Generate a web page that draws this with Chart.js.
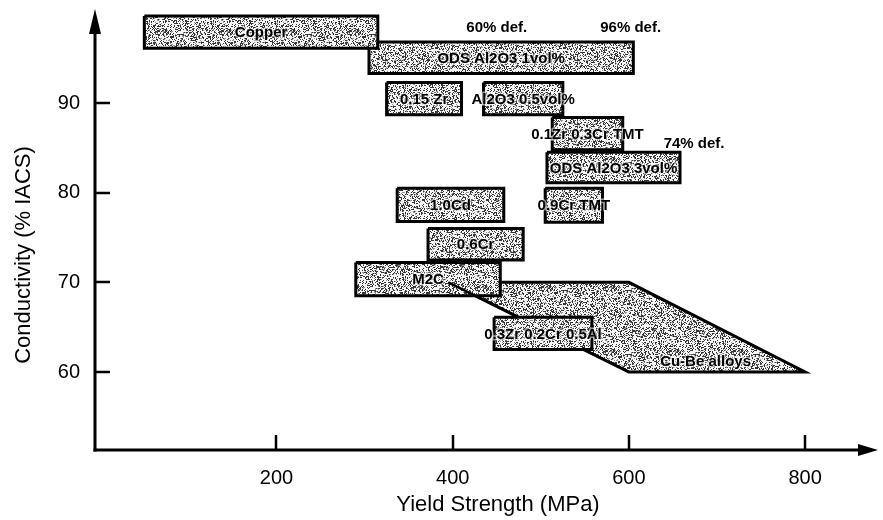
<!DOCTYPE html>
<html>
<head>
<meta charset="utf-8">
<script src="https://cdn.jsdelivr.net/npm/chart.js@4.4.1/dist/chart.umd.min.js"></script>
<style>
  html, body { margin: 0; padding: 0; background: #ffffff; }
  #wrap { width: 883px; height: 520px; }
</style>
</head>
<body>
<div id="wrap"><canvas id="chart" width="883" height="520"></canvas></div>
<script>
// Property windows of copper alloys: yield strength (MPa) vs conductivity (% IACS)
const alloys = [
  'Copper', 'ODS Al2O3 1vol%', '0.15 Zr', 'Al2O3 0.5vol%', '0.1Zr 0.3Cr TMT',
  'ODS Al2O3 3vol%', '0.9Cr TMT', '1.0Cd', '0.6Cr', 'M2C', '0.3Zr 0.2Cr 0.5Al'
];
const strengthMin = [50, 305, 325, 435, 513, 507, 505, 337, 372, 290, 447];
const strengthMax = [315, 605, 410, 525, 593, 658, 570, 458, 480, 454, 558];
const conductivityMin = [96.1, 93.3, 88.7, 88.7, 84.8, 81.1, 76.7, 76.8, 72.5, 68.5, 62.5];
const conductivityMax = [99.7, 96.8, 92.3, 92.3, 88.4, 84.5, 80.5, 80.5, 76.0, 72.2, 66.1];

// Cu-Be alloy band (corner points, in drawing order)
const cuBeStrength = [395, 600, 800, 600];
const cuBeConductivity = [70, 70, 60, 60];

// Free-standing notes
const notes = ['60% def.', '96% def.', '74% def.', 'Cu-Be alloys'];
const noteStrength = [450, 602, 674, 687];
const noteConductivity = [98.4, 98.4, 85.5, 61.1];

// Axis ticks
const strengthTicks = [200, 400, 600, 800];
const conductivityTicks = [60, 70, 80, 90];

const FONT = "'Liberation Sans', Arial, sans-serif";

// Grainy halftone fill used for every region
function makeStipple() {
  const c = document.createElement('canvas');
  c.width = 64; c.height = 64;
  const g = c.getContext('2d');
  const img = g.createImageData(64, 64);
  for (let j = 0; j < 64; j++) {
    for (let i = 0; i < 64; i++) {
      let n = Math.imul(i + 17, 374761393) ^ Math.imul(j + 31, 668265263);
      n = Math.imul(n ^ (n >>> 13), 1274126177);
      n = (n ^ (n >>> 16)) >>> 0;
      const r = n / 4294967296;
      const v = r < 0.30 ? 55 : (r < 0.42 ? 150 : 245);
      const k = (j * 64 + i) * 4;
      img.data[k] = v; img.data[k + 1] = v; img.data[k + 2] = v; img.data[k + 3] = 255;
    }
  }
  g.putImageData(img, 0, 0);
  return document.getElementById('chart').getContext('2d').createPattern(c, 'repeat');
}
const stipple = makeStipple();

function boxPoints(i) {
  return [
    { x: strengthMin[i], y: conductivityMax[i] },
    { x: strengthMax[i], y: conductivityMax[i] },
    { x: strengthMax[i], y: conductivityMin[i] },
    { x: strengthMin[i], y: conductivityMin[i] },
    { x: strengthMin[i], y: conductivityMax[i] }
  ];
}

const regionStyle = {
  backgroundColor: stipple,
  borderColor: '#000000',
  borderWidth: 3,
  borderJoinStyle: 'miter',
  pointRadius: 0,
  tension: 0,
  fill: 'shape'
};

// First dataset is drawn on top; the Cu-Be band sits underneath everything,
// with its lower-left edge showing through the M2C window
const datasets = [];
datasets.push(Object.assign({ label: alloys[10], data: boxPoints(10) }, regionStyle));
datasets.push({
  label: 'Cu-Be edge',
  data: [
    { x: cuBeStrength[0], y: cuBeConductivity[0] },
    { x: cuBeStrength[3], y: cuBeConductivity[3] }
  ],
  borderColor: '#000000',
  borderWidth: 2.5,
  pointRadius: 0,
  tension: 0,
  fill: false
});
[9, 0, 1, 2, 3, 4, 5, 6, 7, 8].forEach(i =>
  datasets.push(Object.assign({ label: alloys[i], data: boxPoints(i) }, regionStyle)));
const cuBePts = cuBeStrength.map((s, k) => ({ x: s, y: cuBeConductivity[k] }));
cuBePts.push({ x: cuBeStrength[0], y: cuBeConductivity[0] });
datasets.push(Object.assign({ label: 'Cu-Be alloys', data: cuBePts }, regionStyle));

// Axis lines with arrow heads, inward tick marks, titles and region labels
const decorations = {
  id: 'decorations',
  afterDatasetsDraw(chart) {
    const ctx = chart.ctx;
    const xs = chart.scales.x, ys = chart.scales.y;
    ctx.save();
    ctx.fillStyle = '#000';
    ctx.strokeStyle = 'rgba(255,255,255,0.55)';
    ctx.lineWidth = 3;
    ctx.lineJoin = 'round';
    ctx.textAlign = 'center';
    ctx.textBaseline = 'middle';
    ctx.font = 'bold 15px ' + FONT;
    alloys.forEach((name, i) => {
      const cx = xs.getPixelForValue((strengthMin[i] + strengthMax[i]) / 2);
      const cy = ys.getPixelForValue((conductivityMin[i] + conductivityMax[i]) / 2);
      ctx.strokeText(name, cx, cy + 1);
      ctx.fillText(name, cx, cy + 1);
    });
    notes.forEach((t, i) => {
      const nx = xs.getPixelForValue(noteStrength[i]);
      const ny = ys.getPixelForValue(noteConductivity[i]);
      ctx.strokeText(t, nx, ny);
      ctx.fillText(t, nx, ny);
    });
    ctx.restore();
  },
  afterDraw(chart) {
    const ctx = chart.ctx;
    const xs = chart.scales.x, ys = chart.scales.y;
    const a = chart.chartArea;
    ctx.save();
    ctx.strokeStyle = '#000';
    ctx.fillStyle = '#000';
    ctx.lineWidth = 3;
    ctx.lineCap = 'butt';
    // vertical axis
    ctx.beginPath();
    ctx.moveTo(a.left, a.bottom + 1.5);
    ctx.lineTo(a.left, a.top + 14);
    ctx.stroke();
    ctx.beginPath();
    ctx.moveTo(a.left, a.top + 1);
    ctx.lineTo(a.left - 6, a.top + 26);
    ctx.lineTo(a.left + 6, a.top + 26);
    ctx.closePath();
    ctx.fill();
    // horizontal axis
    ctx.beginPath();
    ctx.moveTo(a.left - 1.5, a.bottom);
    ctx.lineTo(a.right - 14, a.bottom);
    ctx.stroke();
    ctx.beginPath();
    ctx.moveTo(a.right - 2, a.bottom);
    ctx.lineTo(a.right - 22, a.bottom - 6);
    ctx.lineTo(a.right - 22, a.bottom + 6);
    ctx.closePath();
    ctx.fill();
    // inward ticks
    ctx.lineWidth = 2.5;
    strengthTicks.forEach(v => {
      const px = Math.round(xs.getPixelForValue(v));
      ctx.beginPath();
      ctx.moveTo(px, a.bottom);
      ctx.lineTo(px, a.bottom - 15);
      ctx.stroke();
    });
    conductivityTicks.forEach(v => {
      const py = Math.round(ys.getPixelForValue(v));
      ctx.beginPath();
      ctx.moveTo(a.left, py);
      ctx.lineTo(a.left + 15, py);
      ctx.stroke();
    });
    // axis titles
    ctx.font = '22px ' + FONT;
    ctx.textAlign = 'center';
    ctx.textBaseline = 'middle';
    ctx.fillText('Yield Strength (MPa)', 498, 505);
    ctx.translate(24, 255);
    ctx.rotate(-Math.PI / 2);
    ctx.fillText('Conductivity (% IACS)', 0, 0);
    ctx.restore();
  }
};

new Chart(document.getElementById('chart'), {
  type: 'line',
  data: { datasets },
  options: {
    responsive: false,
    animation: false,
    events: [],
    devicePixelRatio: 1,
    layout: { padding: { top: 8, right: 3, left: 0, bottom: 0 } },
    plugins: { legend: { display: false }, tooltip: { enabled: false } },
    scales: {
      x: {
        type: 'linear',
        min: -6,
        max: 885,
        afterBuildTicks: s => { s.ticks = strengthTicks.map(v => ({ value: v })); },
        afterFit: s => { s.height = 70; s.paddingLeft = 0; s.paddingRight = 0; },
        grid: { display: false, drawTicks: false },
        border: { display: false },
        ticks: { color: '#000', padding: 16, font: { family: FONT, size: 20 } }
      },
      y: {
        type: 'linear',
        min: 51.3,
        max: 100.6,
        afterBuildTicks: s => { s.ticks = conductivityTicks.map(v => ({ value: v })); },
        afterFit: s => { s.width = 95; s.paddingTop = 0; s.paddingBottom = 0; },
        grid: { display: false, drawTicks: false },
        border: { display: false },
        ticks: { color: '#000', padding: 15, font: { family: FONT, size: 20 } }
      }
    }
  },
  plugins: [decorations]
});
</script>
</body>
</html>
